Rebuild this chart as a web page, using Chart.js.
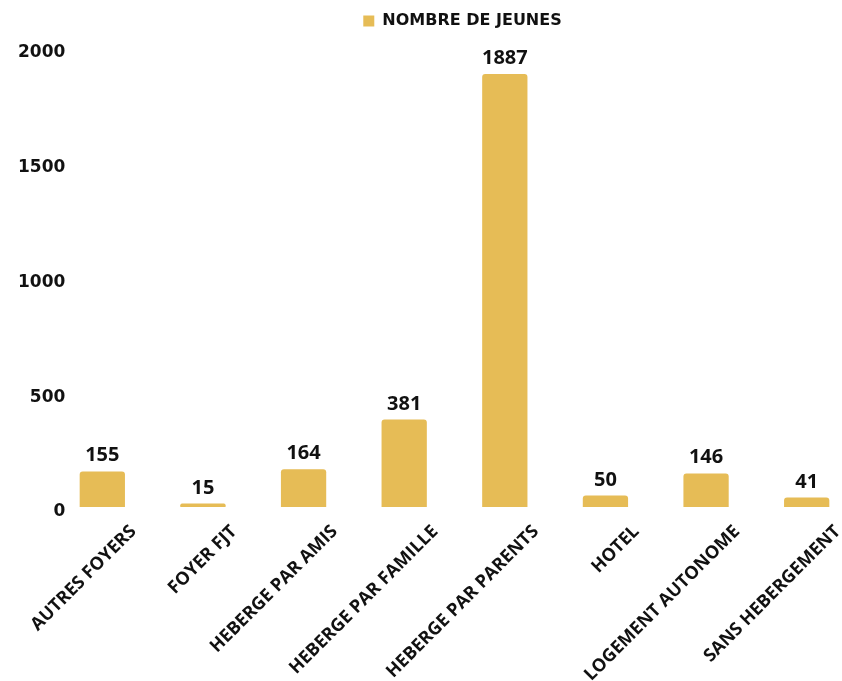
<!DOCTYPE html>
<html>
<head>
<meta charset="utf-8">
<script src="https://cdn.jsdelivr.net/npm/chart.js@4.4.1/dist/chart.umd.min.js"></script>
<style>
  html, body { margin: 0; padding: 0; background: #ffffff; overflow: hidden; }
  #wrap { position: relative; width: 925px; height: 681px; }
</style>
</head>
<body>
<div id="wrap"><canvas id="c"></canvas></div>
<script>
const categories = ["AUTRES FOYERS", "FOYER FJT", "HEBERGE PAR AMIS", "HEBERGE PAR FAMILLE", "HEBERGE PAR PARENTS", "HOTEL", "LOGEMENT AUTONOME", "SANS HEBERGEMENT"];
const seriesName = "NOMBRE DE JEUNES";
const jeunes = [155, 15, 164, 381, 1887, 50, 146, 41];
const yTicks = [0, 500, 1000, 1500, 2000];

const BAR_COLOR = '#E6BC56';

const valueLabels = {
  id: 'valueLabels',
  afterDatasetsDraw(chart) {
    const ctx = chart.ctx;
    const meta = chart.getDatasetMeta(0);
    ctx.save();
    ctx.font = 'bold 20px "Open Sans"';
    ctx.fillStyle = '#111111';
    ctx.textAlign = 'center';
    ctx.textBaseline = 'alphabetic';
    meta.data.forEach((bar, i) => {
      ctx.fillText(String(jeunes[i]), bar.x, bar.y - 10);
    });
    ctx.restore();
  }
};

// leave some extra room below the legend
const legendSpace = {
  id: 'legendSpace',
  afterInit(chart) {
    const lg = chart.legend;
    if (lg && !lg._patched) {
      const orig = lg.fit.bind(lg);
      lg.fit = function () { orig(); this.height += 9; };
      lg._patched = true;
    }
  }
};

new Chart(document.getElementById('c'), {
  type: 'bar',
  data: {
    labels: categories,
    datasets: [{
      label: seriesName,
      data: jeunes,
      backgroundColor: BAR_COLOR,
      borderRadius: { topLeft: 3, topRight: 3, bottomLeft: 0, bottomRight: 0 },
      borderSkipped: 'bottom',
      categoryPercentage: 1,
      barPercentage: 0.45,
      yAxisID: 'y'
    }]
  },
  options: {
    responsive: true,
    maintainAspectRatio: false,
    animation: false,
    layout: { padding: { top: 7, left: 0, right: 0, bottom: 0 } },
    plugins: {
      legend: {
        display: true,
        position: 'top',
        labels: {
          boxWidth: 11,
          boxHeight: 11,
          padding: 6,
          color: '#111111',
          font: { family: '"DejaVu Sans"', weight: 'bold', size: 16 }
        }
      },
      tooltip: { enabled: false }
    },
    scales: {
      x: {
        grid: { display: false, drawTicks: false },
        border: { display: false },
        ticks: {
          autoSkip: false,
          maxRotation: 45,
          minRotation: 45,
          labelOffset: 31,
          padding: 14,
          color: '#111111',
          font: { family: '"Open Sans"', weight: 'bold', size: 18 }
        },
        afterFit(scale) {
          scale.height = 174;
          scale.paddingLeft = 0;
          scale.paddingRight = 0;
        }
      },
      y: {
        position: 'left',
        min: 0,
        max: 2000,
        grid: { display: false, drawTicks: false },
        border: { display: false },
        afterBuildTicks(scale) { scale.ticks = yTicks.map(v => ({ value: v })); },
        ticks: {
          mirror: true,
          crossAlign: 'far',
          padding: -34,
          labelOffset: 5,
          color: '#111111',
          font: { family: '"DejaVu Sans"', weight: 'bold', size: 17 },
          callback: (v) => String(v)
        },
        afterFit(scale) { scale.width = 52; }
      },
      y2: {
        position: 'right',
        display: true,
        min: 0,
        max: 2000,
        grid: { display: false, drawTicks: false },
        border: { display: false },
        ticks: { display: false },
        afterFit(scale) { scale.width = 68; }
      }
    }
  },
  plugins: [valueLabels, legendSpace]
});
</script>
</body>
</html>
